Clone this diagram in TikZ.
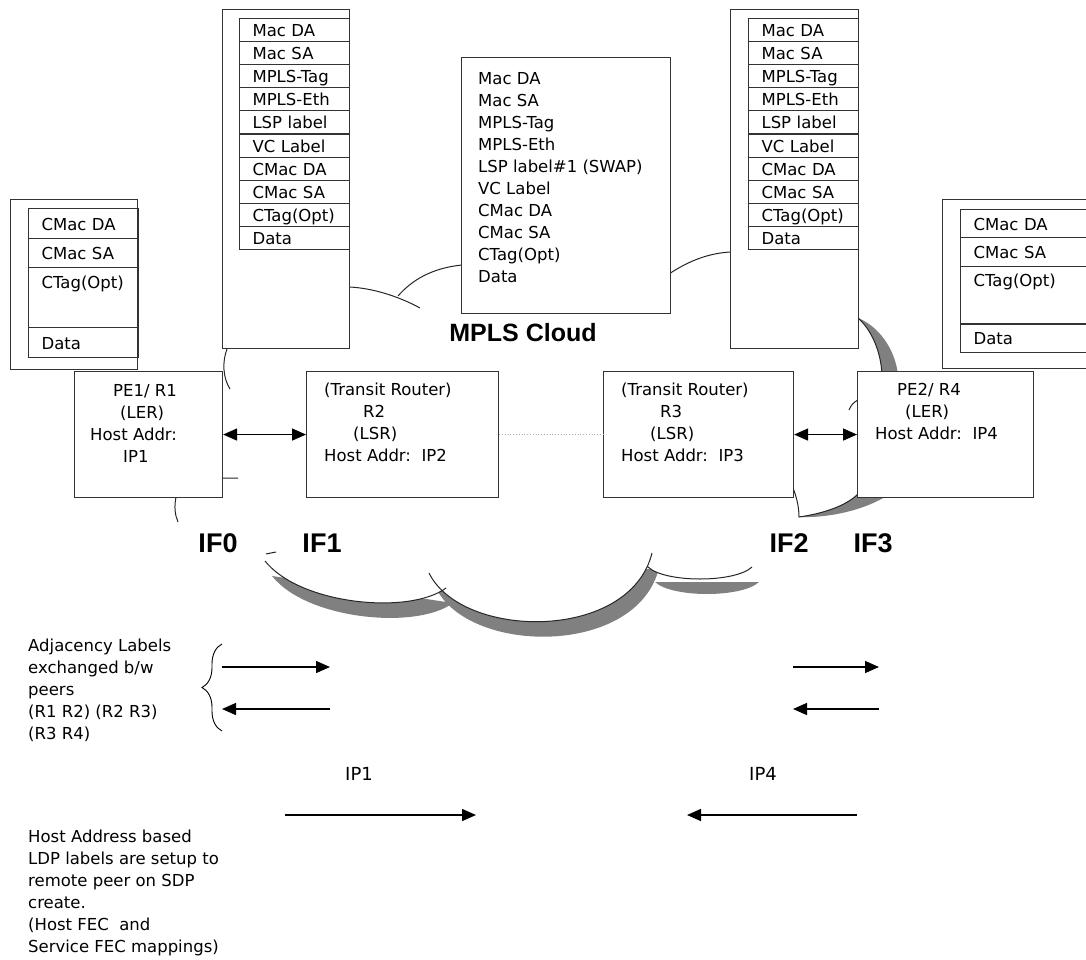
\documentclass[tikz,border=0pt]{standalone}
\usepackage{fontspec}
\setmainfont{DejaVu Sans}
\newfontfamily\headfont{Liberation Sans}
\usetikzlibrary{arrows.meta,decorations.pathreplacing}

\newcommand{\bumpA}{(265,561) .. controls (300,605) and (410,615) .. (446,588)}
\newcommand{\bumpB}{(429,573) .. controls (462,640) and (630,642) .. (652,553)}
\newcommand{\bumpC}{(648,567) .. controls (665,583) and (735,583) .. (752,567)}

\begin{document}
\begin{tikzpicture}[
  x=1pt,y=-1pt,
  font=\fontsize{16.5}{22}\selectfont,
  box/.style={draw=black!80,line width=1.1pt,fill=white,inner sep=0pt,anchor=north west},
  cell/.style={draw=black!80,line width=1.1pt,anchor=north west,inner xsep=13pt,inner ysep=0pt,
               text width=84pt,align=left,minimum height=23.1pt,text height=14.5pt,text depth=1.5pt},
  tallcell/.style={cell,text height=19.5pt,text depth=38pt},
  rcell/.style={cell,text width=150pt},
  note/.style={anchor=north west,inner sep=0pt,align=left},
  iflabel/.style={font=\headfont\bfseries\fontsize{27}{30}\selectfont},
  cloudlabel/.style={font=\headfont\bfseries\fontsize{25}{30}\selectfont},
  iplabel/.style={font=\fontsize{18}{22}\selectfont},
  cloudline/.style={draw=black!85,line width=1pt},
  cloudshade/.style={fill=black!50},
  link/.style={{Triangle[length=14pt,width=12pt]}-{Triangle[length=14pt,width=12pt]},line width=1.4pt},
  flow/.style={-{Triangle[length=14pt,width=12pt]},line width=1.4pt}
]
\useasboundingbox (0,0) rectangle (1086,960);

% cloud pieces
\fill[cloudshade,shift={(7,15)}] \bumpA -- cycle \bumpB -- cycle \bumpC -- cycle;
\fill[white] \bumpA -- cycle \bumpB -- cycle \bumpC -- cycle;
\draw[cloudline] \bumpA \bumpB \bumpC;
\draw[cloudline] (266,554) -- (276,552);
\fill[cloudshade] (858,318) .. controls (872,330) and (881,352) .. (882,375)
  -- (898,375) .. controls (895,348) and (878,326) .. (858,318) -- cycle;
\fill[cloudshade] (799,517) .. controls (825,518) and (862,512) .. (890,494)
  -- (858,494) .. controls (845,507) and (820,514) .. (799,517) -- cycle;
\draw[cloudline] (349,287) .. controls (372,288) and (398,296) .. (420,308)
  (398,296) .. controls (412,280) and (432,268) .. (462,265)
  (669,274) .. controls (690,260) and (710,253) .. (731,252)
  (857,317) .. controls (872,330) and (881,352) .. (882,375)
  (849,410) .. controls (851,405) and (854,402) .. (858,400)
  (793,488) .. controls (797,498) and (799,508) .. (799,517)
  .. controls (820,514) and (845,507) .. (858,494)
  (227,349) .. controls (222,362) and (223,378) .. (230,389)
  (176,497) .. controls (174,507) and (175,515) .. (178,522)
  (222,478) -- (238,478);

% frames
\node[box,minimum width=127,minimum height=170] (cl) at (10,199) {};
\node[box,minimum width=127,minimum height=339] (pl) at (222,9) {};
\node[box,minimum width=209,minimum height=256] (mid) at (461,57) {};
\node[box,minimum width=128,minimum height=339] (pr) at (730,9) {};
\node[box,minimum width=200,minimum height=169] (cr) at (942,199) {};

% routers
\node[box,minimum width=148,minimum height=126] (pe1) at (74,371) {};
\node[box,minimum width=192,minimum height=126] (r2) at (306,371) {};
\node[box,minimum width=190,minimum height=126] (r3) at (603,371) {};
\node[box,minimum width=176,minimum height=126] (pe2) at (857,371) {};

% headers
\foreach \t [count=\i from 0] in {Mac DA,Mac SA,MPLS-Tag,MPLS-Eth,LSP label,VC Label,CMac DA,CMac SA,CTag(Opt),Data}{
  \node[cell] (pla\i) at (239,{18+23.1*\i}) {\t};
  \node[cell] (pra\i) at (748,{18+23.1*\i}) {\t};
}
\node[cell,minimum height=30] (cla1) at (28,208) {CMac DA};
\node[cell,minimum height=29] (cla2) at (28,238) {CMac SA};
\node[tallcell,minimum height=60] (cla3) at (28,267) {CTag(Opt)};
\node[cell,minimum height=30] (cla4) at (28,327) {Data};
\node[rcell,minimum height=28] (cra1) at (960,209) {CMac DA};
\node[rcell,minimum height=29] (cra2) at (960,237) {CMac SA};
\node[tallcell,text width=150pt,minimum height=57] (cra3) at (960,266) {CTag(Opt)};
\node[rcell,minimum height=29] (cra4) at (960,323) {Data};

\node[note] (midt) at (478,72) {Mac DA\\Mac SA\\MPLS-Tag\\MPLS-Eth\\LSP label\#1 (SWAP)\\VC Label\\CMac DA\\CMac SA\\CTag(Opt)\\Data};

\node[note] (pe1t) at (90,384) {\hspace*{23pt}PE1/ R1\\\hspace*{30pt}(LER)\\Host Addr:\\\hspace*{33pt}IP1};
\node[note] (r2t) at (324,383) {(Transit Router)\\\hspace*{39pt}R2\\\hspace*{29pt}(LSR)\\Host Addr:\ \ IP2};
\node[note] (r3t) at (621,383) {(Transit Router)\\\hspace*{39pt}R3\\\hspace*{29pt}(LSR)\\Host Addr:\ \ IP3};
\node[note] (pe2t) at (875,383) {\hspace*{22pt}PE2/ R4\\\hspace*{30pt}(LER)\\Host Addr:\ \ IP4};

\draw[link] (pe1) -- (r2);
\draw[link] (r3) -- (pe2);
\draw[gray!60,dotted,line width=0.8pt] (r2) -- (r3);

\node[cloudlabel] (cloud) at (523,333) {MPLS Cloud};
\node[iflabel] (if0) at (218,543) {IF0};
\node[iflabel] (if1) at (322,543) {IF1};
\node[iflabel] (if2) at (789,543) {IF2};
\node[iflabel] (if3) at (873,543) {IF3};

% label exchange
\node[note] (adj) at (28,639) {Adjacency Labels\\exchanged b/w\\peers\\(R1 R2) (R2 R3)\\(R3 R4)};
\draw[line width=0.9pt,decorate,decoration={brace,amplitude=20pt}] (222,731) -- (222,644);
\coordinate (a1) at (222,667);
\coordinate (a2) at (330,667);
\coordinate (a3) at (330,709);
\coordinate (a4) at (222,709);
\coordinate (b1) at (793,667);
\coordinate (b2) at (879,667);
\coordinate (b3) at (879,709);
\coordinate (b4) at (793,709);
\draw[flow] (a1) -- (a2);
\draw[flow] (a3) -- (a4);
\draw[flow] (b1) -- (b2);
\draw[flow] (b3) -- (b4);

\node[iplabel] (ip1) at (359,774) {IP1};
\node[iplabel] (ip4) at (763,774) {IP4};
\coordinate (h1) at (285,815);
\coordinate (h2) at (476,815);
\coordinate (h3) at (857,815);
\coordinate (h4) at (687,815);
\draw[flow] (h1) -- (h2);
\draw[flow] (h3) -- (h4);
\node[note] (ldp) at (28,830) {Host Address based\\LDP labels are setup to\\remote peer on SDP\\create.\\(Host FEC\ \ and\\Service FEC mappings)};
\end{tikzpicture}
\end{document}
